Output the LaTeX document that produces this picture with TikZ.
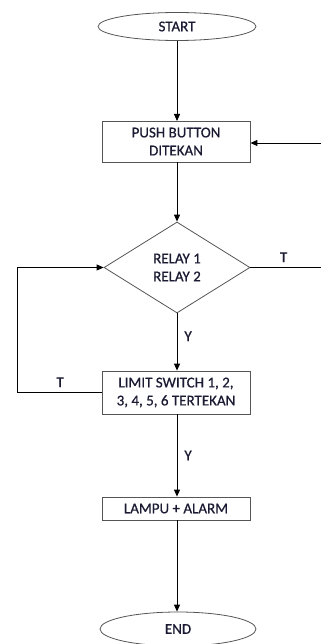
\documentclass[tikz,border=0pt]{standalone}
\usepackage{fontspec}
\setmainfont{Carlito}[FakeBold=0.6]
\usetikzlibrary{shapes.geometric,arrows.meta}
\definecolor{txt}{HTML}{1A1A33}
\definecolor{edge}{HTML}{555555}
\tikzset{
  x=1pt,y=-1pt,
  base/.style={draw=edge,line width=0.8pt,text=txt,font=\fontsize{15}{18}\selectfont,align=center,inner sep=0pt},
  term/.style={base,ellipse,minimum width=158pt,minimum height=28pt},
  procbox/.style={base,rectangle,minimum width=148pt},
  decision/.style={base,diamond,minimum width=146pt,minimum height=91pt,aspect=1.6},
  conn/.style={draw=black,line width=0.9pt,-{Triangle[length=7pt,width=6pt]}},
  plain/.style={draw=black,line width=0.9pt},
  lbl/.style={text=txt,font=\fontsize{15}{18}\selectfont,inner sep=0pt}
}
\begin{document}
\begin{tikzpicture}
\useasboundingbox (0,0) rectangle (321,644);
\node[term] (start) at (177,26.5) {START};
\node[procbox,minimum height=41pt] (push) at (176,141.5) {PUSH BUTTON\\DITEKAN};
\node[decision] (relay) at (177,267.5) {RELAY 1\\RELAY 2};
\node[procbox,minimum height=43pt] (limit) at (176,392.5) {LIMIT SWITCH 1, 2,\\3, 4, 5, 6 TERTEKAN};
\node[procbox,minimum height=23pt] (lampu) at (176,508.5) {LAMPU + ALARM};
\node[term,minimum width=156pt,minimum height=34pt] (end) at (178,629) {END};
\coordinate (rin) at (321,143);
\coordinate (rout) at (321,267.5);
\coordinate (lb) at (17,392.5);
\coordinate (lt) at (17,267.5);
\draw[conn] (start.south -| 177,0) -- (177,121);
\draw[conn] (rin) -- (push.east |- rin);
\draw[conn] (push.south -| 177,0) -- (relay.north);
\draw[plain] (relay.east) -- (rout) node[lbl,pos=0.47,above=5pt] {T};
\draw[conn] (relay.south) -- (limit.north -| relay.south) node[lbl,pos=0.4,right=7pt] {Y};
\draw[plain] (limit.west) -- (lb) node[lbl,pos=0.49,above=5pt] {T};
\draw[conn] (lb) -- (lt) -- (relay.west);
\draw[conn] (limit.south -| 177,0) -- (lampu.north -| 177,0) node[lbl,pos=0.5,right=7pt] {Y};
\draw[conn] (lampu.south -| 177,0) -- (end.north -| 177,0);
\end{tikzpicture}
\end{document}
